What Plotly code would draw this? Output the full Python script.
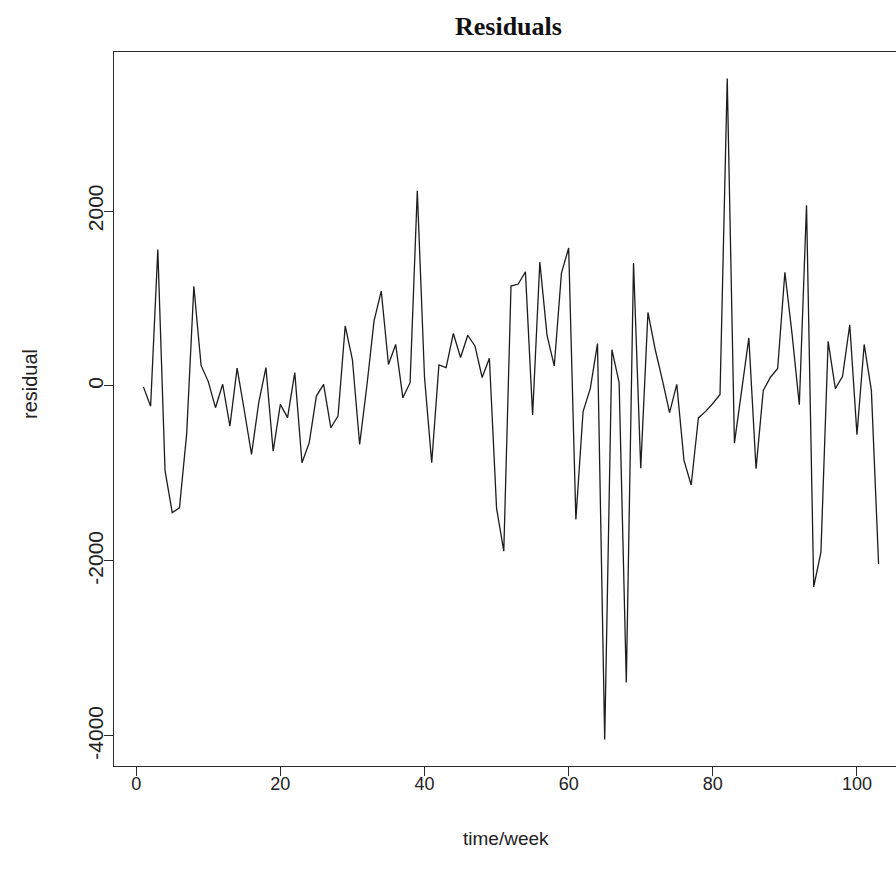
import plotly.graph_objects as go

# weekly residuals of the fitted model
weeks = list(range(1, 104))
residuals = [
    -10, -232, 1560, -968, -1447, -1393, -550, 1140, 235, 50,
    -248, 20, -458, 205, -280, -782, -190, 211, -744, -210,
    -362, 153, -878, -650, -115, 19, -477, -344, 687, 300,
    -668, 0, 745, 1085, 245, 475, -135, 38, 2232, 100,
    -877, 240, 211, 600, 325, 580, 458, 97, 318, -1400,
    -1888, 1142, 1165, 1304, -330, 1415, 577, 229, 1290, 1577,
    -1525, -292, -30, 485, -4041, 415, 40, -3389, 1405, -941,
    840, 420, 70, -305, 19, -850, -1131, -365, -290, -200,
    -97, 3515, -653, -60, 550, -945, -50, 100, 200, 1300,
    590, -215, 2065, -2296, -1900, 510, -30, 110, 700, -556,
    475, -50, -2034,
]
x_ticks = [0, 20, 40, 60, 80, 100]
y_ticks = [-4000, -2000, 0, 2000]

W, H = 896, 879
LEFT, TOP, BOTTOM = 114, 52, 766     # plot box edges in pixels
FULL_RIGHT = 908                     # where the box's right side would sit


def padded(lo, hi, frac=0.04):
    span = hi - lo
    return lo - frac * span, hi + frac * span


xlo, xhi = padded(min(weeks), max(weeks))
ylo, yhi = padded(min(residuals), max(residuals))
# the page cuts the box on the right, so only part of the x span is visible
x_visible_hi = xlo + (xhi - xlo) * (W - LEFT) / (FULL_RIGHT - LEFT)


def px_x(px):
    return (px - LEFT) / (W - LEFT)


def px_y(py):
    return (BOTTOM - py) / (BOTTOM - TOP)


frame = "#2b2b2b"
sans = "Liberation Sans, Arial, sans-serif"

fig = go.Figure(
    go.Scatter(
        x=weeks,
        y=residuals,
        mode="lines",
        line=dict(color="#1c1c1c", width=1.3),
        hoverinfo="skip",
    )
)

fig.update_layout(
    width=W,
    height=H,
    margin=dict(l=LEFT, r=0, t=TOP, b=H - BOTTOM, pad=0),
    paper_bgcolor="white",
    plot_bgcolor="white",
    showlegend=False,
    xaxis=dict(
        range=[xlo, x_visible_hi],
        tickvals=x_ticks,
        ticktext=[str(v) for v in x_ticks],
        ticks="outside",
        ticklen=9,
        tickwidth=1.2,
        tickcolor=frame,
        ticklabelstandoff=-8,
        showline=True,
        linecolor=frame,
        linewidth=1.4,
        mirror=True,
        showgrid=False,
        zeroline=False,
        tickfont=dict(family=sans, size=18, color="#222"),
    ),
    yaxis=dict(
        range=[ylo, yhi],
        tickvals=y_ticks,
        ticktext=[str(v) for v in y_ticks],
        tickangle=-90,
        ticks="outside",
        ticklen=9,
        tickwidth=1.2,
        tickcolor=frame,
        ticklabelstandoff=-8,
        showline=True,
        linecolor=frame,
        linewidth=1.4,
        showgrid=False,
        zeroline=False,
        tickfont=dict(family=sans, size=21, color="#222"),
    ),
    annotations=[
        dict(
            text="<b>Residuals</b>",
            x=px_x(508), y=px_y(27),
            xref="paper", yref="paper",
            xanchor="center", yanchor="middle", showarrow=False,
            font=dict(family="Liberation Serif, Times New Roman, serif", size=26, color="#111"),
        ),
        dict(
            text="time/week",
            x=px_x(506), y=px_y(838),
            xref="paper", yref="paper",
            xanchor="center", yanchor="middle", showarrow=False,
            font=dict(family=sans, size=19, color="#222"),
        ),
        dict(
            text="residual",
            x=px_x(30), y=px_y(384),
            xref="paper", yref="paper",
            xanchor="center", yanchor="middle", showarrow=False,
            textangle=-90,
            font=dict(family=sans, size=20, color="#222"),
        ),
    ],
)

fig.write_html("out.html")
